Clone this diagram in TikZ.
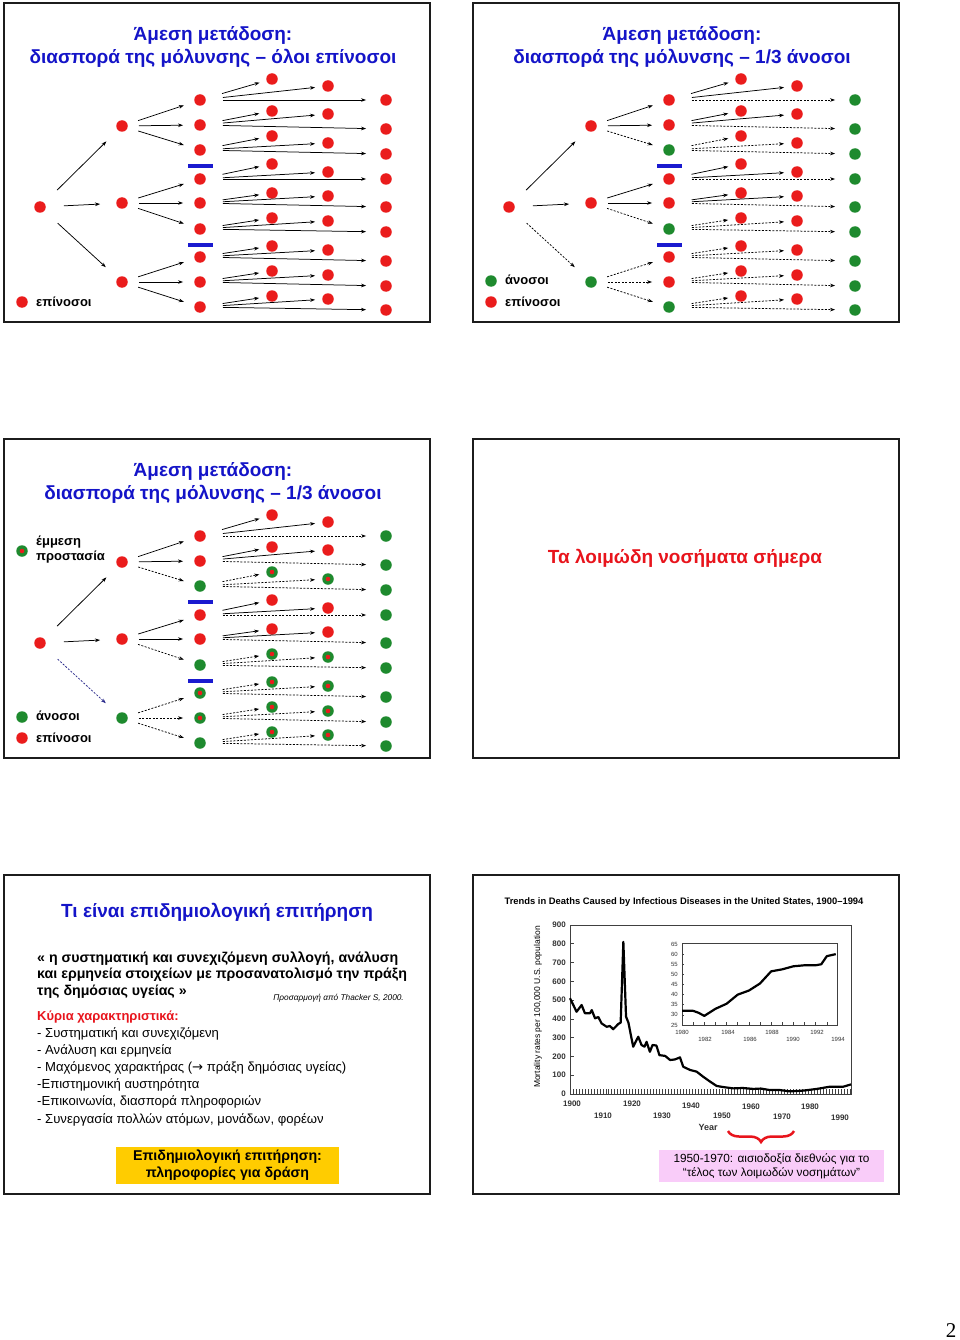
\documentclass[tikz,border=0pt]{standalone}
\usepackage{fontspec}
\setmainfont{Liberation Sans}
\newfontfamily\pagenumfont{Liberation Serif}
\newfontfamily\arrowfont{DejaVu Sans}
\usepackage{tikz}
\usetikzlibrary{arrows.meta,positioning,decorations.pathreplacing}
\definecolor{slideblue}{HTML}{1414C8}
\definecolor{dotred}{HTML}{EA1C1C}
\definecolor{dotgreen}{HTML}{1E8A2E}
\definecolor{barblue}{HTML}{1A1ACF}
\definecolor{arrownavy}{HTML}{2A2A8C}
\definecolor{titlered}{HTML}{E8141C}
\definecolor{boxgold}{HTML}{FFCC00}
\definecolor{boxpink}{HTML}{F9CCF9}
\definecolor{framegrey}{HTML}{1C1C1C}

\begin{document}
\begin{tikzpicture}[
  x=1pt,y=-1pt,
  dotR/.style={circle,fill=dotred,inner sep=0pt,minimum size=11.5pt},
  dotG/.style={dotR,fill=dotgreen},
  dotP/.style={dotG,path picture={\fill[dotred] (path picture bounding box.center) circle (2.3pt);}},
  transarr/.style={-{Stealth[length=5pt,width=3.6pt]},line width=0.75pt,draw=black},
  blockarr/.style={transarr,dash pattern=on 2pt off 1.5pt},
  navyarr/.style={blockarr,draw=arrownavy},
  tierone/.style={shorten <=18pt,shorten >=16pt},
  tiertwo/.style={shorten <=11pt,shorten >=11pt},
  tierthree/.style={shorten <=17pt,shorten >=7pt},
  tierfour/.style={shorten <=17pt,shorten >=14pt},
  bar/.style={line width=3.5pt,draw=barblue},
  slideframe/.style={draw=framegrey,line width=1.8pt},
  slidetitle/.style={font=\bfseries\fontsize{19}{23}\selectfont,text=slideblue,
                     align=center,inner sep=0pt},
  legend/.style={font=\bfseries\fontsize{13}{15}\selectfont,anchor=west,
                 inner sep=0pt,align=left},
  quote/.style={font=\bfseries\fontsize{14.2}{16}\selectfont,anchor=base west,inner sep=0pt},
  bullet/.style={font=\fontsize{13.1}{15}\selectfont,anchor=base west,inner sep=0pt},
  charttext/.style={font=\bfseries\fontsize{8}{9}\selectfont,text=black!80,inner sep=0pt},
  insettext/.style={font=\fontsize{6}{7}\selectfont,text=black!80,inner sep=0pt},
  chartframe/.style={draw=black!75,line width=0.6pt},
  curve/.style={draw=black,line width=2.2pt,line join=round},
]
\fill[white] (0,0) rectangle (960,1340);
\useasboundingbox (0,0) rectangle (960,1340);

% slide frames
\draw[slideframe] (4,3) rectangle (430,322);
\draw[slideframe] (473,3) rectangle (899,322);
\draw[slideframe] (4,439) rectangle (430,758);
\draw[slideframe] (473,439) rectangle (899,758);
\draw[slideframe] (4,875) rectangle (430,1194);
\draw[slideframe] (473,875) rectangle (899,1194);

% slide 1: all susceptible
\node[slidetitle] (s1title) at (213,46.5)
  {Άμεση μετάδοση:\\διασπορά της μόλυνσης -- όλοι επίνοσοι};
\node[dotR] (s1r) at (40,207) {};
\foreach \i/\y in {1/126,2/203,3/282} {
  \node[dotR] (s1l\i) at (122,\y) {};
  \draw[transarr,tierone] (s1r) -- (s1l\i);
}
\foreach \j/\y/\p/\ya/\yb/\yc in {1/100/1/79/86/100, 2/125/1/111/114/129,
    3/150/1/136/143/154, 4/179/2/164/172/179, 5/203/2/193/196/207,
    6/229/2/218/221/232, 7/257/3/246/250/261, 8/282/3/271/275/286,
    9/307/3/296/299/310} {
  \node[dotR] (s1m\j) at (200,\y) {};
  \node[dotR] (s1a\j) at (272,\ya) {};
  \node[dotR] (s1b\j) at (328,\yb) {};
  \node[dotR] (s1c\j) at (386,\yc) {};
  \draw[transarr,tiertwo] (s1l\p) -- (s1m\j);
  \draw[transarr,tierthree] (s1m\j) -- (s1a\j);
  \draw[transarr,tierthree] (s1m\j) -- (s1b\j);
  \draw[transarr,tierfour] (s1m\j) -- (s1c\j);
}
\draw[bar] (188,166) -- (213,166);
\draw[bar] (188,245) -- (213,245);
\node[dotR] (s1keyR) at (22,302) {};
\node[legend] (s1keyRtext) at (36,302) {επίνοσοι};

% slide 2: one third immune
\begin{scope}[shift={(469,0)}]
\node[slidetitle] (s2title) at (213,46.5)
  {Άμεση μετάδοση:\\διασπορά της μόλυνσης -- 1/3 άνοσοι};
\node[dotR] (s2r) at (40,207) {};
\foreach \i/\y/\c/\a in {1/126/dotR/transarr,2/203/dotR/transarr,3/282/dotG/blockarr} {
  \node[\c] (s2l\i) at (122,\y) {};
  \draw[\a,tierone] (s2r) -- (s2l\i);
}
\foreach \j/\y/\p/\mc/\ma/\ya/\yb/\yc/\ac/\aa in {
    1/100/1/dotR/transarr/79/86/100/dotR/transarr,
    2/125/1/dotR/transarr/111/114/129/dotR/transarr,
    3/150/1/dotG/blockarr/136/143/154/dotR/blockarr,
    4/179/2/dotR/transarr/164/172/179/dotR/transarr,
    5/203/2/dotR/transarr/193/196/207/dotR/transarr,
    6/229/2/dotG/blockarr/218/221/232/dotR/blockarr,
    7/257/3/dotR/blockarr/246/250/261/dotR/blockarr,
    8/282/3/dotR/blockarr/271/275/286/dotR/blockarr,
    9/307/3/dotG/blockarr/296/299/310/dotR/blockarr} {
  \node[\mc] (s2m\j) at (200,\y) {};
  \node[\ac] (s2a\j) at (272,\ya) {};
  \node[\ac] (s2b\j) at (328,\yb) {};
  \node[dotG] (s2c\j) at (386,\yc) {};
  \draw[\ma,tiertwo] (s2l\p) -- (s2m\j);
  \draw[\aa,tierthree] (s2m\j) -- (s2a\j);
  \draw[\aa,tierthree] (s2m\j) -- (s2b\j);
  \draw[blockarr,tierfour] (s2m\j) -- (s2c\j);
}
\draw[bar] (188,166) -- (213,166);
\draw[bar] (188,245) -- (213,245);
\node[dotG] (s2keyG) at (22,281) {};
\node[legend] (s2keyGtext) at (36,280) {άνοσοι};
\node[dotR] (s2keyR) at (22,302) {};
\node[legend] (s2keyRtext) at (36,302) {επίνοσοι};
\end{scope}

% slide 3: one third immune, indirect protection
\begin{scope}[shift={(0,436)}]
\node[slidetitle] (s3title) at (213,46.5)
  {Άμεση μετάδοση:\\διασπορά της μόλυνσης -- 1/3 άνοσοι};
\node[dotR] (s3r) at (40,207) {};
\foreach \i/\y/\c/\a in {1/126/dotR/transarr,2/203/dotR/transarr,3/282/dotG/navyarr} {
  \node[\c] (s3l\i) at (122,\y) {};
  \draw[\a,tierone] (s3r) -- (s3l\i);
}
\foreach \j/\y/\p/\mc/\ma/\ya/\yb/\yc/\ac/\aa in {
    1/100/1/dotR/transarr/79/86/100/dotR/transarr,
    2/125/1/dotR/transarr/111/114/129/dotR/transarr,
    3/150/1/dotG/blockarr/136/143/154/dotP/blockarr,
    4/179/2/dotR/transarr/164/172/179/dotR/transarr,
    5/203/2/dotR/transarr/193/196/207/dotR/transarr,
    6/229/2/dotG/blockarr/218/221/232/dotP/blockarr,
    7/257/3/dotP/blockarr/246/250/261/dotP/blockarr,
    8/282/3/dotP/blockarr/271/275/286/dotP/blockarr,
    9/307/3/dotG/blockarr/296/299/310/dotP/blockarr} {
  \node[\mc] (s3m\j) at (200,\y) {};
  \node[\ac] (s3a\j) at (272,\ya) {};
  \node[\ac] (s3b\j) at (328,\yb) {};
  \node[dotG] (s3c\j) at (386,\yc) {};
  \draw[\ma,tiertwo] (s3l\p) -- (s3m\j);
  \draw[\aa,tierthree] (s3m\j) -- (s3a\j);
  \draw[\aa,tierthree] (s3m\j) -- (s3b\j);
  \draw[blockarr,tierfour] (s3m\j) -- (s3c\j);
}
\draw[bar] (188,166) -- (213,166);
\draw[bar] (188,245) -- (213,245);
\node[dotP] (s3keyP) at (22,115) {};
\node[legend] (s3keyPtext) at (36,114) {έμμεση\\προστασία};
\node[dotG] (s3keyG) at (22,281) {};
\node[legend] (s3keyGtext) at (36,280) {άνοσοι};
\node[dotR] (s3keyR) at (22,302) {};
\node[legend] (s3keyRtext) at (36,302) {επίνοσοι};
\end{scope}

% slide 4
\node[font=\bfseries\fontsize{19}{22}\selectfont,text=titlered] (today) at (685,558)
  {Τα λοιμώδη νοσήματα σήμερα};

% slide 5: surveillance
\node[slidetitle] (survtitle) at (217,912)
  {Τι είναι επιδημιολογική επιτήρηση};
\foreach \t [count=\k] in {{« η συστηματική και συνεχιζόμενη συλλογή, ανάλυση},
    {και ερμηνεία στοιχείων με προσανατολισμό την πράξη},
    {της δημόσιας υγείας »}}
  \node[quote] (quote\k) at (37,{962+16.5*(\k-1)}) {\t};
\node[font=\itshape\fontsize{8.3}{9}\selectfont,anchor=east,inner sep=0pt] (cite) at (404,998)
  {Προσαρμογή από Thacker S, 2000.};
\node[quote,font=\bfseries\fontsize{13}{16}\selectfont,text=titlered] (features) at (37,1020)
  {Κύρια χαρακτηριστικά:};
\foreach \t [count=\k] in {{- Συστηματική και συνεχιζόμενη},{- Ανάλυση και ερμηνεία},
    {- Μαχόμενος χαρακτήρας ({\arrowfont →} πράξη δημόσιας υγείας)},{-Επιστημονική αυστηρότητα},
    {-Επικοινωνία, διασπορά πληροφοριών},{- Συνεργασία πολλών ατόμων, μονάδων, φορέων}}
  \node[bullet] (feat\k) at (37,{1037+17.2*(\k-1)}) {\t};
\node[fill=boxgold,minimum width=223pt,minimum height=37pt,inner sep=0pt,align=center,
      font=\bfseries\fontsize{14.2}{17}\selectfont] (action) at (227.5,1165.5)
  {Επιδημιολογική επιτήρηση:\\πληροφορίες για δράση};

% slide 6: mortality chart
\node[font=\bfseries\fontsize{9.4}{10}\selectfont,inner sep=0pt] (charttitle) at (684,902)
  {Trends in Deaths Caused by Infectious Diseases in the United States, 1900–1994};
\node[rotate=90,font=\fontsize{8.5}{9}\selectfont,inner sep=0pt] (ylabel) at (538,1007)
  {Mortality rates per 100,000 U.S. population};
\begin{scope}[shift={(570,1094)},x=2.98pt,y=0.1878pt]
  \draw[chartframe] (0,0) rectangle (94.3,900);
  \foreach \v in {100,200,...,800} \draw[chartframe] (0,\v) -- (1.3,\v);
  \foreach \t in {1,...,94} \draw[chartframe,line width=0.5pt] (\t,0) -- (\t,28);
  \draw[curve] plot coordinates {(0,510) (2.2,438) (3.9,474) (5,430) (6.7,430) (7.3,447)
    (8.4,403) (9.5,410) (10.6,376) (12.3,358) (13.4,362) (14.5,345) (16.2,373) (17,380)
    (17.9,810) (18.8,412) (19.6,380) (21.2,252) (22.9,305) (24,261) (25,252) (25.7,278)
    (26.8,225) (27.7,261) (29,258) (30,207) (31.9,203) (33.6,181) (35.2,184) (36.9,195)
    (38,145) (40.3,128) (42.5,119) (44.7,92) (47,66) (49.2,43) (51.4,37) (54.8,30)
    (58,32) (61.5,27) (64,29) (67.1,21) (70,22) (73.8,14) (78.2,18) (82.8,27) (87.2,39)
    (91.7,39) (94.3,51)};
\end{scope}
\foreach \v in {0,100,...,900}
  \node[charttext,anchor=east] (my\v) at (566,{1094-0.1878*\v}) {\v};
\foreach \yr/\xx/\yy in {1900/572/1104,1910/603/1116,1920/632/1104,1930/662/1116,
    1940/691/1106,1950/722/1116,1960/751/1107,1970/782/1117,1980/810/1107,1990/840/1118}
  \node[charttext] (mx\yr) at (\xx,\yy) {\yr};
\node[charttext,font=\bfseries\fontsize{9}{9}\selectfont] (year) at (708,1127) {Year};
% inset 1980-1994
\begin{scope}[shift={(682,1025)},x=11.14pt,y=2.025pt]
  \draw[chartframe] (0,0) rectangle (13.9,40.5);
  \foreach \t in {1,...,13} \draw[chartframe] (\t,0) -- (\t,1.5);
  \foreach \v in {5,10,...,35} \draw[chartframe] (0,\v) -- (0.2,\v);
  \draw[curve] plot coordinates {(0,7) (1,7) (1.5,6) (2,4.5) (3,8) (4,10.5) (5,15)
    (6,17) (7,20.5) (8,26.5) (9,27.5) (10,29) (11,29.5) (12,29.5) (12.5,30) (13,34)
    (13.8,35)};
\end{scope}
\foreach \v in {25,30,...,65}
  \node[insettext,anchor=east] (iy\v) at (678,{1025-2.025*(\v-25)}) {\v};
\foreach \yr/\xx/\yy in {1980/682/1032,1982/705/1039,1984/728/1032,1986/750/1039,
    1988/772/1032,1990/793/1039,1992/817/1032,1994/838/1039}
  \node[insettext] (ix\yr) at (\xx,\yy) {\yr};
% optimism years
\coordinate (braceL) at (728,1131);
\coordinate (braceR) at (794,1131);
\draw[titlered,line width=2.5pt,decorate,decoration={brace,mirror,amplitude=11pt}]
  (braceL) -- (braceR);
\node[fill=boxpink,minimum width=225pt,minimum height=32pt,inner sep=0pt,align=center,
      font=\fontsize{11.8}{14}\selectfont] (optimism) at (771.5,1166)
  {1950-1970: αισιοδοξία διεθνώς για το\\“τέλος των λοιμωδών νοσημάτων”};

\node[font=\pagenumfont\fontsize{21}{24}\selectfont,anchor=base,inner sep=0pt] (pagenum)
  at (951,1337) {2};
\end{tikzpicture}
\end{document}
